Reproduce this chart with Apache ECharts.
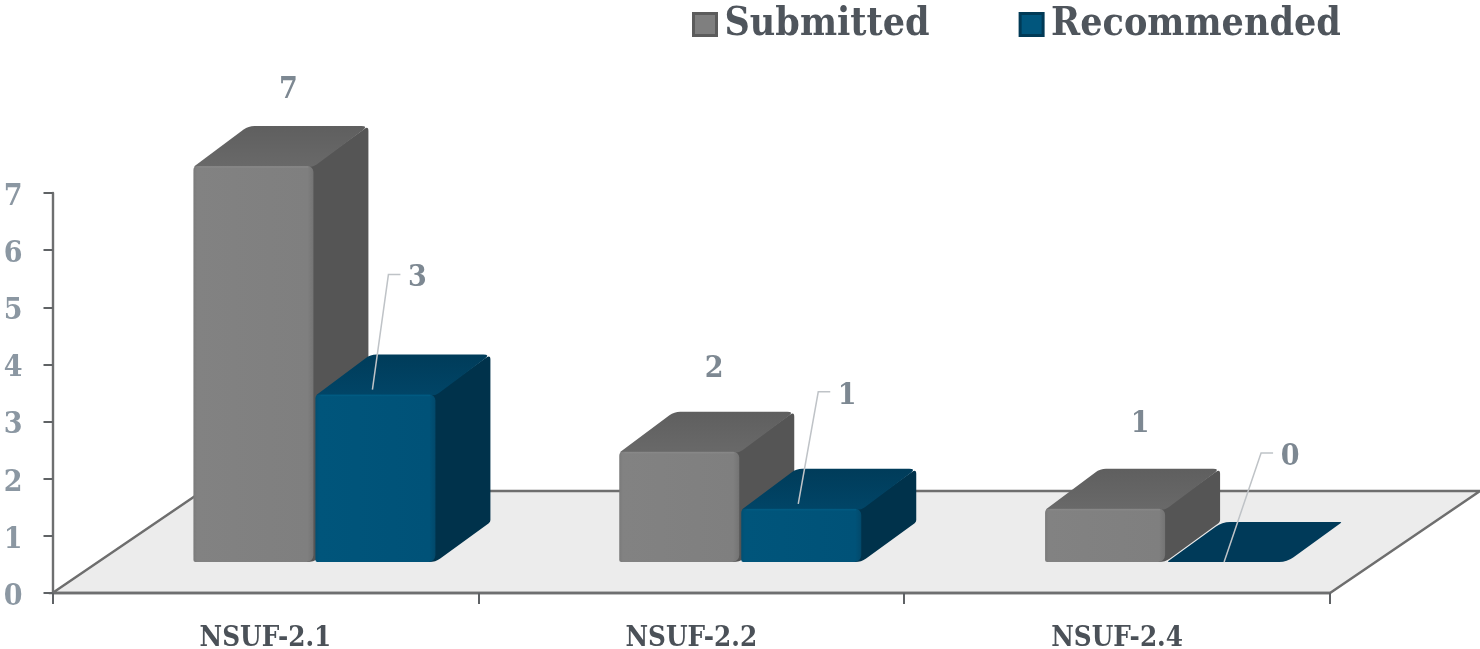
<!DOCTYPE html>
<html>
<head>
<meta charset="utf-8">
<style>html,body{margin:0;padding:0;background:#fff}#chart{width:1480px;height:649px}</style>
<script src="https://cdn.jsdelivr.net/npm/echarts@6/dist/echarts.min.js"></script>
</head>
<body>
<div id="chart"></div>
<script>
// Proposal counts per call
const categories = ['NSUF-2.1', 'NSUF-2.2', 'NSUF-2.4'];
const submitted = [7, 2, 1];
const recommended = [3, 1, 0];

const FONT = '"DejaVu Serif Condensed","DejaVu Serif",serif';

// Oblique projection used for the floor and the bars
const FLOOR_DX = 150, FLOOR_DY = 102;
const BAR_W = 120, BAR_GAP = 2, BAR_DX = 55, BAR_DY = 40;
const BASE_DX = 49, BASE_DY = 31;
// The rounded bevel eats a few pixels off the top of a raised bar
const BEVEL_INSET = 4;
// Per-group placement of the value labels and callout leaders
const LABEL_RISE = [76, 83, 85];
const LEADER_RUN = [16, 20, 37];
const LEADER_RISE = [120, 117, 109];

const SKINS = {
  grey: {
    front: [[0, '#7a7a7a'], [0.03, '#828282'], [0.95, '#7f7f7f'], [1, '#747474']],
    top: ['#5f5f5f', '#696969'],
    side: '#555555',
    edge: '#8e8e8e',
    flat: '#696969'
  },
  blue: {
    front: [[0, '#024f72'], [0.03, '#00557b'], [0.95, '#005278'], [1, '#02496b']],
    top: ['#003c5a', '#014567'],
    side: '#00324b',
    edge: '#02618a',
    flat: '#003a59'
  }
};

// Closed path through the points, with every corner eased by its own radius
function roundedPath(points, radii) {
  const n = points.length;
  let d = '';
  for (let i = 0; i < n; i++) {
    const p = points[i], a = points[(i + n - 1) % n], b = points[(i + 1) % n];
    const r = radii[i];
    const la = Math.hypot(a[0] - p[0], a[1] - p[1]) || 1;
    const lb = Math.hypot(b[0] - p[0], b[1] - p[1]) || 1;
    const s = [p[0] + (a[0] - p[0]) * r / la, p[1] + (a[1] - p[1]) * r / la];
    const e = [p[0] + (b[0] - p[0]) * r / lb, p[1] + (b[1] - p[1]) * r / lb];
    d += (i ? 'L' : 'M') + s[0] + ' ' + s[1] + 'Q' + p[0] + ' ' + p[1] + ' ' + e[0] + ' ' + e[1];
  }
  return d + 'Z';
}

function grad(x, y, x2, y2, stops) {
  return {
    type: 'linear', x, y, x2, y2,
    colorStops: stops.map(s => ({ offset: s[0], color: s[1] }))
  };
}

function renderFloor(params) {
  const c = params.coordSys;
  const bottom = c.y + c.height, right = c.x + c.width;
  return {
    type: 'polygon',
    shape: { points: [
      [c.x, bottom],
      [c.x + FLOOR_DX, bottom - FLOOR_DY],
      [right + FLOOR_DX, bottom - FLOOR_DY],
      [right, bottom]
    ] },
    style: { fill: '#ececec', stroke: '#6e6e6e', lineWidth: 2.4 }
  };
}

function makeBarRenderer(skinName, slot) {
  const skin = SKINS[skinName];
  return function (params, api) {
    const idx = api.value(0), value = api.value(1);
    const origin = api.coord([idx, 0]);
    const tip = api.coord([idx, value]);
    const raw = origin[1] - tip[1];
    const height = raw > 0 ? raw - BEVEL_INSET : 0;

    const groupLeft = origin[0] + BASE_DX - BAR_W - BAR_GAP / 2;
    const x0 = groupLeft + slot * (BAR_W + BAR_GAP);
    const x1 = x0 + BAR_W;
    const yb = origin[1] - BASE_DY;
    const yt = yb - height;

    const children = [];
    if (height > 0) {
      // Side wall runs a little under the front face so its round corners stay closed
      children.push({
        type: 'path',
        shape: { pathData: roundedPath(
          [[x1 - 8, yt], [x1 - 1, yt], [x1 + BAR_DX, yt - BAR_DY], [x1 + BAR_DX, yb - BAR_DY], [x1, yb], [x1 - 8, yb]],
          [0, 0, 5, 2, 6, 0]) },
        style: { fill: skin.side }
      });
      children.push({
        type: 'path',
        shape: { pathData: roundedPath(
          [[x0, yt + 1], [x0 + BAR_DX, yt - BAR_DY], [x1 + BAR_DX, yt - BAR_DY], [x1, yt + 1]],
          [2, 6, 7, 4]) },
        style: { fill: grad(0, 0, 0, 1, [[0, skin.top[0]], [1, skin.top[1]]]) }
      });
      children.push({
        type: 'rect',
        shape: { x: x0, y: yt, width: BAR_W, height, r: [4, 6, 7, 2] },
        style: { fill: grad(0, 0, 1, 0, skin.front) }
      });
      children.push({
        type: 'line',
        shape: { x1: x0 + 5, y1: yt + 1, x2: x1 - 5, y2: yt + 1 },
        style: { stroke: skin.edge, lineWidth: 1.5, opacity: 0.5 }
      });
    } else {
      children.push({
        type: 'path',
        shape: { pathData: roundedPath(
          [[x0, yt], [x0 + BAR_DX, yt - BAR_DY], [x1 + BAR_DX, yt - BAR_DY], [x1, yt]],
          [2, 8, 2, 8]) },
        style: { fill: skin.flat }
      });
    }

    const cx = (x0 + x1) / 2;
    const labelStyle = {
      text: String(value),
      align: 'center', verticalAlign: 'middle',
      fontFamily: FONT, fontWeight: 'bold', fontSize: 30, fill: '#7d8892'
    };
    if (slot === 0) {
      children.push({
        type: 'text',
        style: Object.assign({ x: cx + 35, y: yt - LABEL_RISE[idx] }, labelStyle)
      });
    } else {
      const elbowX = cx - 3 + LEADER_RUN[idx], elbowY = yt - LEADER_RISE[idx];
      const startY = height > 0 ? yt - 5 : yt;
      children.push({
        type: 'polyline',
        shape: { points: [[cx - 3, startY], [elbowX, elbowY], [elbowX + 12, elbowY]] },
        style: { stroke: '#bfc3c7', lineWidth: 1.5, fill: 'none' }
      });
      children.push({
        type: 'text',
        style: Object.assign({ x: elbowX + 29, y: elbowY + 4 }, labelStyle)
      });
    }
    return { type: 'group', children };
  };
}

function toPoints(values) {
  return values.map((v, i) => [i, v]);
}

const chart = echarts.init(document.getElementById('chart'), null, { renderer: 'canvas' });
chart.setOption({
  animation: false,
  backgroundColor: '#ffffff',
  grid: { left: 52.5, right: 150, top: 193, height: 400, containLabel: false, outerBoundsMode: 'none' },
  legend: {
    data: [
      { name: 'Submitted', itemStyle: { color: '#7f7f7f', borderColor: '#5c5c5c', borderWidth: 3 } },
      { name: 'Recommended', itemStyle: { color: '#01567d', borderColor: '#013a56', borderWidth: 3 } }
    ],
    left: 692, top: 5, padding: 0,
    itemWidth: 23, itemHeight: 22, itemGap: 89,
    icon: 'rect',
    textStyle: {
      fontFamily: FONT, fontWeight: 'bold', fontSize: 39, color: '#4f555c',
      padding: [0, 0, 0, 3]
    }
  },
  xAxis: {
    type: 'category',
    data: categories,
    z: 5,
    axisLine: { lineStyle: { color: '#6e6f70', width: 2.4 } },
    axisTick: { show: true, alignWithLabel: false, length: 11, lineStyle: { color: '#5f6265', width: 2 } },
    axisLabel: {
      margin: 32, fontFamily: FONT, fontWeight: 'bold', fontSize: 27.5, color: '#4b5158', interval: 0
    }
  },
  yAxis: {
    type: 'value',
    min: 0, max: 7, interval: 1,
    z: 5,
    splitLine: { show: false },
    axisLine: { show: true, lineStyle: { color: '#6e6f70', width: 2.4 } },
    axisTick: { show: true, length: 9, lineStyle: { color: '#5f6265', width: 2 } },
    axisLabel: {
      margin: 30, verticalAlign: 'top', lineHeight: 8,
      fontFamily: FONT, fontWeight: 'bold', fontSize: 30, color: '#8b97a2'
    }
  },
  series: [
    {
      name: 'floor', type: 'custom', z: 1, silent: true,
      renderItem: renderFloor,
      data: [[0, 0]],
      encode: { x: 0, y: 1 }
    },
    {
      name: 'Submitted', type: 'custom', z: 6,
      itemStyle: { color: '#7f7f7f' },
      renderItem: makeBarRenderer('grey', 0),
      data: toPoints(submitted),
      encode: { x: 0, y: 1 }
    },
    {
      name: 'Recommended', type: 'custom', z: 7,
      itemStyle: { color: '#01567d' },
      renderItem: makeBarRenderer('blue', 1),
      data: toPoints(recommended),
      encode: { x: 0, y: 1 }
    }
  ]
});
</script>
</body>
</html>
